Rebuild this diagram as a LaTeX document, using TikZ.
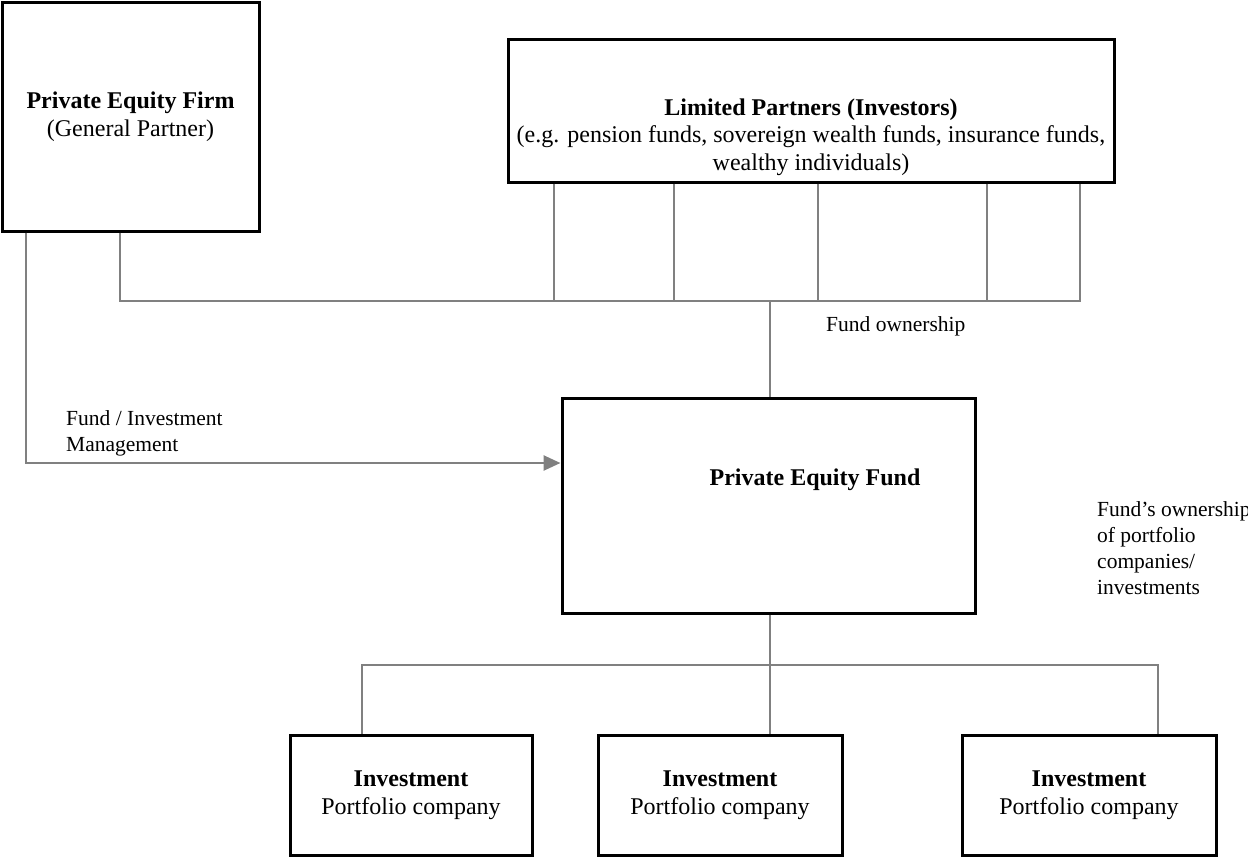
\documentclass[tikz,border=0pt]{standalone}
\usepackage{fontspec}
\setmainfont{Liberation Serif}
\usetikzlibrary{arrows.meta}
\definecolor{conngray}{HTML}{808080}
\begin{document}
\begin{tikzpicture}[x=1pt,y=-1pt,
  boxnode/.style={draw=black,line width=3pt,fill=white,inner sep=0pt,align=center,
    font=\fontsize{24}{27.5}\selectfont},
  conn/.style={draw=conngray,line width=2.6pt},
  lbl/.style={inner sep=0pt,align=left,anchor=west,font=\fontsize{21.5}{26}\selectfont},
  tip/.style={-{Triangle[length=17pt,width=15pt]}}
]
\useasboundingbox (0,0) rectangle (1248,857);

% boxes
\node[boxnode,minimum width=257pt,minimum height=229pt] (pef) at (130.5,116.5)
  {\textbf{Private Equity Firm}\\(General Partner)};
\node[boxnode,minimum width=606pt,minimum height=143pt] (lp) at (811,110.5) {};
\node[inner sep=0pt,align=center,font=\fontsize{24}{27.5}\selectfont] (lptxt) at (811,137)
  {\textbf{Limited Partners (Investors)}\\(e.g. pension funds, sovereign wealth funds, insurance funds,\\wealthy individuals)};
\node[boxnode,minimum width=413pt,minimum height=215pt] (fund) at (768.5,505.5) {};
\node[inner sep=0pt,font=\fontsize{24}{27.5}\selectfont\bfseries] (fundtxt) at (815,480) {Private Equity Fund};
\node[boxnode,minimum width=242pt,minimum height=120pt] (inv1) at (411,795)
  {\textbf{Investment}\\Portfolio company};
\node[boxnode,minimum width=244pt,minimum height=120pt] (inv2) at (720,795)
  {\textbf{Investment}\\Portfolio company};
\node[boxnode,minimum width=254pt,minimum height=120pt] (inv3) at (1089,795)
  {\textbf{Investment}\\Portfolio company};

% bus coordinates
\coordinate (busL) at (120,301);
\coordinate (busR) at (1080,301);
\coordinate (busM) at (770,301);
\coordinate (b1) at (554,301);
\coordinate (b2) at (674,301);
\coordinate (b3) at (818,301);
\coordinate (b4) at (987,301);
\coordinate (mg) at (26,463);
\coordinate (tL) at (362,665);
\coordinate (tM) at (770,665);
\coordinate (tR) at (1158,665);

% connectors
\draw[conn] (pef.south -| busL) -- (busL) -- (busR) -- (lp.south -| busR);
\foreach \b in {b1,b2,b3,b4} { \draw[conn] (lp.south -| \b) -- (\b); }
\draw[conn] (busM) -- (fund.north -| busM);
\draw[conn,tip] (pef.south -| mg) -- (mg) -- (fund.west |- mg);
\draw[conn] (fund.south -| tM) -- (tM);
\draw[conn] (inv1.north -| tL) -- (tL) -- (tR) -- (inv3.north -| tR);
\draw[conn] (tM) -- (inv2.north -| tM);

% labels
\node[lbl] (lblown) at (826,326) {Fund ownership};
\node[lbl] (lblmgmt) at (66,433.5) {Fund / Investment\\Management};
\node[lbl] (lblport) at (1097,548.5) {Fund’s ownership\\of portfolio\\companies/\\investments};
\end{tikzpicture}
\end{document}
